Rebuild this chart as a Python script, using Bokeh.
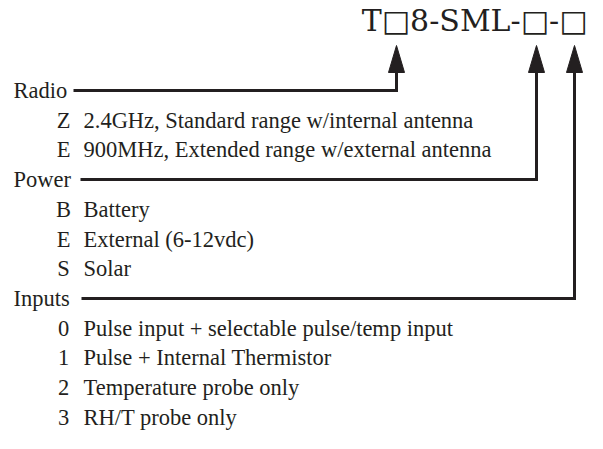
from bokeh.plotting import figure
from bokeh.models import Range1d
from bokeh.core.properties import value
from bokeh.embed import file_html
from bokeh.resources import INLINE

# ---- content ----
title_text = "T\u25a18-SML-\u25a1-\u25a1"
groups = ["Radio", "Power", "Inputs"]
group_codes = [["Z", "E"], ["B", "E", "S"], ["0", "1", "2", "3"]]
group_descs = [
    ["2.4GHz, Standard range w/internal antenna",
     "900MHz, Extended range w/external antenna"],
    ["Battery", "External (6-12vdc)", "Solar"],
    ["Pulse input + selectable pulse/temp input",
     "Pulse + Internal Thermistor",
     "Temperature probe only",
     "RH/T probe only"],
]

# ---- layout (picture pixel coordinates) ----
W, H = 587, 433
row0, row_step = 90, 29.7
label_x, code_x, desc_x = 13, 63, 83
line_start_x = [73, 80, 81]
arrow_x = [396, 536, 574]
arrow_tip_y, arrow_base_y, arrow_half_w = 45, 72, 8
title_right_x, title_mid_y = 587, 20
ink = "#231f20"
body_font = value("Liberation Serif")
title_font = value("DejaVu Serif")
body_size = "22.5px"

p = figure(width=W, height=H, output_backend="svg", toolbar_location=None,
           x_range=Range1d(0, W), y_range=Range1d(H, 0),
           min_border=0, outline_line_color=None)
p.axis.visible = False
p.grid.visible = False
p.background_fill_color = "white"
p.border_fill_color = "white"

lbl_x, lbl_y, lbl_t = [], [], []
code_xs, code_ys, code_ts = [], [], []
desc_xs, desc_ys, desc_ts = [], [], []
group_y = []
r = 0
for g, codes, descs in zip(groups, group_codes, group_descs):
    y = row0 + r * row_step
    group_y.append(y)
    lbl_x.append(label_x); lbl_y.append(y); lbl_t.append(g)
    r += 1
    for c, d in zip(codes, descs):
        y = row0 + r * row_step
        code_xs.append(code_x); code_ys.append(y); code_ts.append(c)
        desc_xs.append(desc_x); desc_ys.append(y); desc_ts.append(d)
        r += 1

p.text(x=lbl_x, y=lbl_y, text=lbl_t, text_font=body_font, text_font_size=body_size,
       text_color=ink, text_baseline="middle", text_align="left")
p.text(x=code_xs, y=code_ys, text=code_ts, text_font=body_font, text_font_size=body_size,
       text_color=ink, text_baseline="middle", text_align="center")
p.text(x=desc_xs, y=desc_ys, text=desc_ts, text_font=body_font, text_font_size=body_size,
       text_color=ink, text_baseline="middle", text_align="left")

p.text(x=[title_right_x], y=[title_mid_y], text=[title_text], text_font=title_font,
       text_font_size="30px", text_color=ink, text_baseline="middle", text_align="right")

xs, ys = [], []
for sx, ax, gy in zip(line_start_x, arrow_x, group_y):
    xs.append([sx, ax, ax])
    ys.append([gy, gy, arrow_base_y])
p.multi_line(xs=xs, ys=ys, line_color=ink, line_width=3, line_join="miter")

hx = [[ax - arrow_half_w, ax, ax + arrow_half_w] for ax in arrow_x]
hy = [[arrow_base_y, arrow_tip_y, arrow_base_y] for _ in arrow_x]
p.patches(xs=hx, ys=hy, fill_color=ink, line_color=ink, line_width=1)

open("out.html", "w").write(file_html(p, INLINE))
